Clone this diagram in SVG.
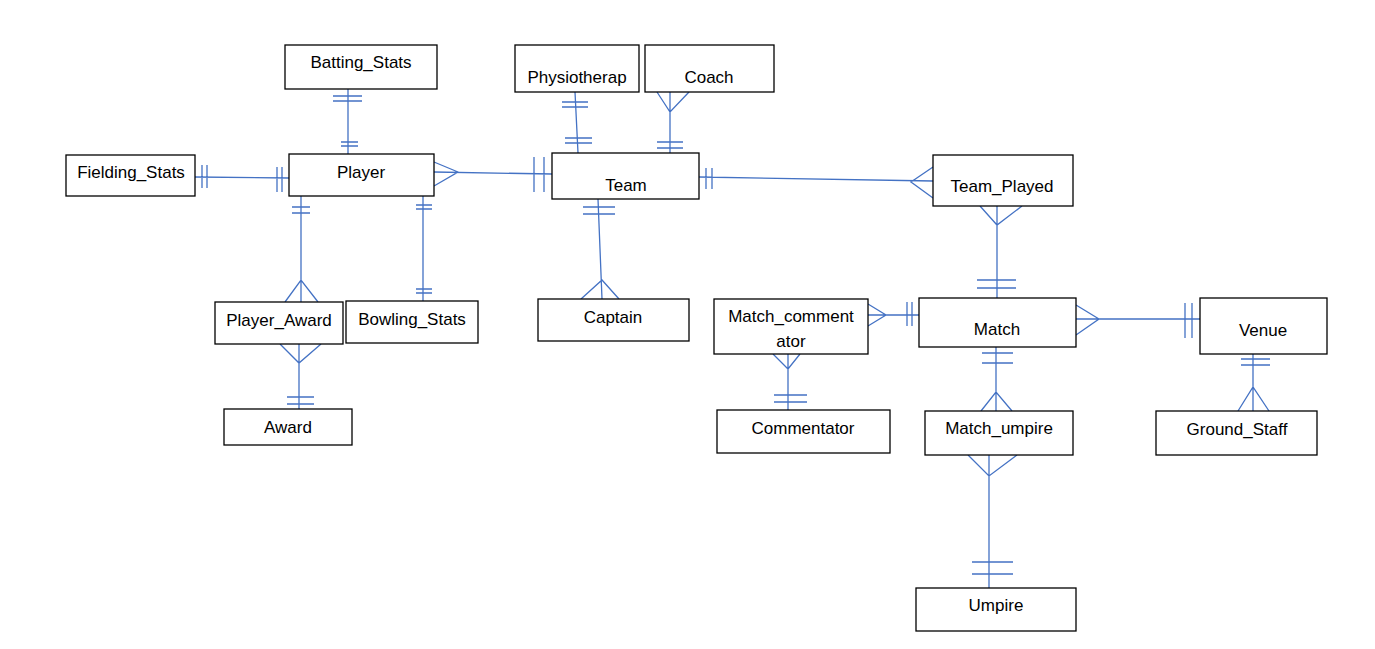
<svg xmlns="http://www.w3.org/2000/svg" width="1375" height="649" viewBox="0 0 1375 649">
<style>
.box{fill:#fff;stroke:#000;stroke-width:1.3}
.t{font-family:"Liberation Sans",Arial,sans-serif;font-size:17px;fill:#000;text-anchor:middle}
.c{fill:none;stroke:#4472C4;stroke-width:1.3}
</style>
<rect width="1375" height="649" fill="#fff"/>
<g id="connectors" class="c">
<!-- Batting_Stats - Player -->
<path d="M348 89V154M333 96H362M333 101H362M341 142H358M341 146H358"/>
<!-- Fielding_Stats - Player -->
<path d="M195 177L289 178M202 165V188M207 165V188M277 167V192M282 167V192"/>
<!-- Player - Team -->
<path d="M434 172L552 174M434 162L458 172L434 186M534 157V192M544 157V192"/>
<!-- Physiotherap - Team -->
<path d="M575 92L578 153M562 102H588M562 107H588M565 138H592M565 143H592"/>
<!-- Coach - Team -->
<path d="M670 92V153M657 92L670 112L689 92M657 142H683M657 148H683"/>
<!-- Team - Team_Played -->
<path d="M699 177L933 181M706 168V189M712 168V189M933 167L911 182L933 198"/>
<!-- Team_Played - Match -->
<path d="M997 206V298M980 206L997 225L1022 206M977 280H1016M977 288H1016"/>
<!-- Team - Captain -->
<path d="M598 199L602 299M583 207H615M583 214H615M581 299L602 280L619 299"/>
<!-- Player - Player_Award -->
<path d="M301 196V302M292 207H310M292 213H310M285 302L301 280L318 302"/>
<!-- Player - Bowling_Stats -->
<path d="M423 196V301M416 205H432M416 209H432M416 289H432M416 293H432"/>
<!-- Player_Award - Award -->
<path d="M299 344V409M280 344L299 363L321 344M287 397H314M287 404H314"/>
<!-- Match_commentator - Match -->
<path d="M868 315H919M868 304L886 315L868 326M907 302V326M912 302V326"/>
<!-- Match_commentator - Commentator -->
<path d="M788 354V410M773 354L788 369L800 354M774 395H807M774 402H807"/>
<!-- Match - Match_umpire -->
<path d="M996 347V411M982 353H1013M982 363H1013M981 411L996 392L1012 411"/>
<!-- Match_umpire - Umpire -->
<path d="M989 455V588M968 455L989 476L1017 455M972 562H1013M972 574H1013"/>
<!-- Match - Venue -->
<path d="M1076 319H1200M1076 305L1099 319L1076 335M1185 303V338M1192 303V338"/>
<!-- Venue - Ground_Staff -->
<path d="M1253 354V411M1241 359H1270M1241 365H1270M1238 411L1253 387L1269 411"/>
</g>
<g id="batting_stats"><rect class="box" x="285" y="45" width="152" height="44"/><text class="t" x="361" y="68">Batting_Stats</text></g>
<g id="fielding_stats"><rect class="box" x="66" y="155" width="129" height="41"/><text class="t" x="131" y="178">Fielding_Stats</text></g>
<g id="player"><rect class="box" x="289" y="154" width="145" height="42"/><text class="t" x="361" y="178">Player</text></g>
<g id="physiotherap"><rect class="box" x="515" y="45" width="124" height="47"/><text class="t" x="577" y="83">Physiotherap</text></g>
<g id="coach"><rect class="box" x="645" y="45" width="129" height="47"/><text class="t" x="709" y="83">Coach</text></g>
<g id="team"><rect class="box" x="552" y="153" width="147" height="46"/><text class="t" x="626" y="191">Team</text></g>
<g id="team_played"><rect class="box" x="933" y="155" width="140" height="51"/><text class="t" x="1002" y="192">Team_Played</text></g>
<g id="player_award"><rect class="box" x="215" y="302" width="128" height="42"/><text class="t" x="279" y="326">Player_Award</text></g>
<g id="bowling_stats"><rect class="box" x="346" y="301" width="132" height="42"/><text class="t" x="412" y="325">Bowling_Stats</text></g>
<g id="award"><rect class="box" x="224" y="409" width="128" height="36"/><text class="t" x="288" y="433">Award</text></g>
<g id="captain"><rect class="box" x="538" y="299" width="151" height="42"/><text class="t" x="613" y="323">Captain</text></g>
<g id="match_commentator"><rect class="box" x="714" y="299" width="154" height="55"/><text class="t" x="791" y="322">Match_comment</text><text class="t" x="791" y="347">ator</text></g>
<g id="match"><rect class="box" x="919" y="298" width="157" height="49"/><text class="t" x="997" y="335">Match</text></g>
<g id="commentator"><rect class="box" x="717" y="410" width="173" height="43"/><text class="t" x="803" y="434">Commentator</text></g>
<g id="match_umpire"><rect class="box" x="925" y="411" width="148" height="44"/><text class="t" x="999" y="434">Match_umpire</text></g>
<g id="venue"><rect class="box" x="1200" y="298" width="127" height="56"/><text class="t" x="1263" y="336">Venue</text></g>
<g id="ground_staff"><rect class="box" x="1156" y="411" width="161" height="44"/><text class="t" x="1237" y="435">Ground_Staff</text></g>
<g id="umpire"><rect class="box" x="916" y="588" width="160" height="43"/><text class="t" x="996" y="611">Umpire</text></g>
</svg>
